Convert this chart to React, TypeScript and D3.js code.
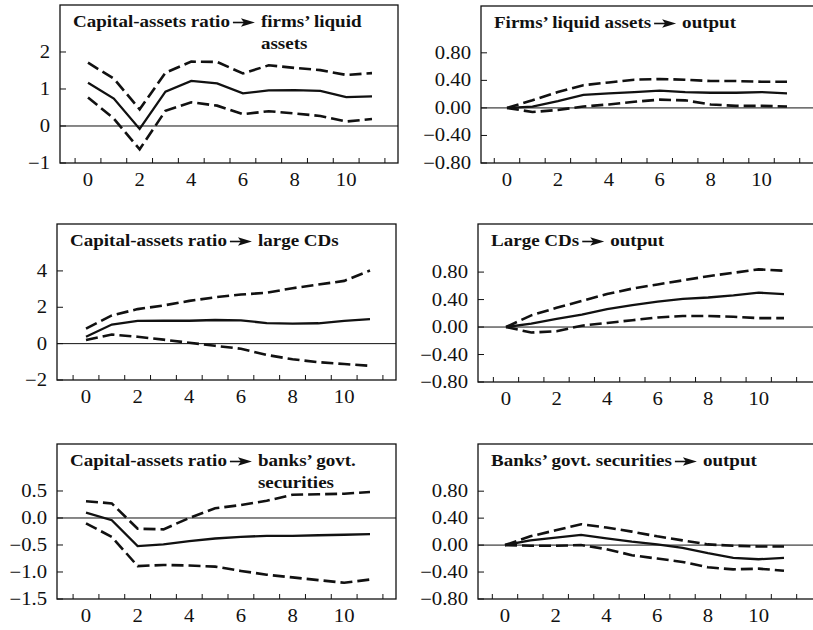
import React, { useEffect, useRef } from "react";
import * as d3 from "d3";

// horizons (quarters after the shock)
const horizons = [0, 1, 2, 3, 4, 5, 6, 7, 8, 9, 10, 11];
const xTickLabels = [0, 2, 4, 6, 8, 10];

// Capital-assets ratio -> firms' liquid assets
const caFirmsMid = [1.17, 0.74, -0.08, 0.93, 1.22, 1.15, 0.88, 0.96, 0.97, 0.95, 0.78, 0.8];
const caFirmsUp = [1.71, 1.28, 0.45, 1.44, 1.74, 1.73, 1.42, 1.64, 1.57, 1.51, 1.38, 1.43];
const caFirmsLo = [0.77, 0.2, -0.63, 0.41, 0.64, 0.55, 0.32, 0.4, 0.34, 0.27, 0.12, 0.19];

// Firms' liquid assets -> output
const firmsOutMid = [0, 0.02, 0.1, 0.19, 0.21, 0.23, 0.25, 0.23, 0.22, 0.22, 0.23, 0.21];
const firmsOutUp = [0, 0.11, 0.23, 0.33, 0.37, 0.41, 0.42, 0.41, 0.39, 0.39, 0.38, 0.38];
const firmsOutLo = [0, -0.06, -0.03, 0.02, 0.05, 0.09, 0.12, 0.11, 0.05, 0.03, 0.03, 0.02];

// Capital-assets ratio -> large CDs
const caCdsMid = [0.38, 1.05, 1.25, 1.26, 1.26, 1.3, 1.28, 1.13, 1.1, 1.12, 1.25, 1.35];
const caCdsUp = [0.83, 1.55, 1.9, 2.1, 2.35, 2.55, 2.7, 2.8, 3.05, 3.25, 3.45, 4.02];
const caCdsLo = [0.2, 0.5, 0.38, 0.22, 0.05, -0.12, -0.28, -0.62, -0.86, -1.02, -1.12, -1.22];

// Large CDs -> output
const cdsOutMid = [0, 0.05, 0.12, 0.18, 0.26, 0.32, 0.37, 0.41, 0.43, 0.46, 0.5, 0.48];
const cdsOutUp = [0, 0.17, 0.28, 0.38, 0.48, 0.56, 0.62, 0.68, 0.74, 0.79, 0.84, 0.82];
const cdsOutLo = [0, -0.08, -0.06, 0.02, 0.06, 0.1, 0.14, 0.16, 0.16, 0.15, 0.13, 0.13];

// Capital-assets ratio -> banks' govt. securities
const caSecMid = [0.1, -0.04, -0.52, -0.49, -0.43, -0.38, -0.35, -0.33, -0.33, -0.32, -0.31, -0.3];
const caSecUp = [0.31, 0.27, -0.2, -0.21, 0.0, 0.18, 0.24, 0.32, 0.43, 0.44, 0.45, 0.48];
const caSecLo = [-0.1, -0.35, -0.89, -0.87, -0.88, -0.9, -0.98, -1.05, -1.1, -1.15, -1.2, -1.14];

// Banks' govt. securities -> output
const secOutMid = [0, 0.07, 0.11, 0.15, 0.1, 0.05, 0.01, -0.04, -0.12, -0.19, -0.21, -0.19];
const secOutUp = [0, 0.13, 0.22, 0.31, 0.26, 0.2, 0.13, 0.07, 0.01, -0.01, -0.02, -0.02];
const secOutLo = [0, -0.01, -0.01, 0.0, -0.06, -0.15, -0.2, -0.25, -0.33, -0.36, -0.35, -0.38];

// y ticks
const ticksFirms = [-1, 0, 1, 2];
const labelsFirms = ["\u22121", "0", "1", "2"];
const ticksCds = [-2, 0, 2, 4];
const labelsCds = ["\u22122", "0", "2", "4"];
const ticksSec = [-1.5, -1, -0.5, 0, 0.5];
const labelsSec = ["\u22121.5", "\u22121.0", "\u22120.5", "0.0", "0.5"];
const ticksOut = [-0.8, -0.4, 0, 0.4, 0.8];
const labelsOut = ["\u22120.80", "\u22120.40", "0.00", "0.40", "0.80"];

interface Panel {
  left: number;
  right: number;
  top: number;
  bottom: number;
  yDomain: [number, number];
  x0: number;
  x11: number;
  yTicks: number[];
  yLabels: string[];
  from: string;
  to: string;
  to2?: string;
  mid: number[];
  up: number[];
  lo: number[];
}

const panels: Panel[] = [
  {
    left: 60, right: 398, top: 5, bottom: 163, yDomain: [-1, 3.27], x0: 88, x11: 372,
    yTicks: ticksFirms, yLabels: labelsFirms,
    from: "Capital-assets ratio", to: "firms\u2019 liquid", to2: "assets",
    mid: caFirmsMid, up: caFirmsUp, lo: caFirmsLo,
  },
  {
    left: 481, right: 821, top: 6, bottom: 163, yDomain: [-0.8, 1.48], x0: 507, x11: 787,
    yTicks: ticksOut, yLabels: labelsOut,
    from: "Firms\u2019 liquid assets", to: "output",
    mid: firmsOutMid, up: firmsOutUp, lo: firmsOutLo,
  },
  {
    left: 57, right: 396, top: 224, bottom: 380, yDomain: [-2, 6.58], x0: 86, x11: 370,
    yTicks: ticksCds, yLabels: labelsCds,
    from: "Capital-assets ratio", to: "large CDs",
    mid: caCdsMid, up: caCdsUp, lo: caCdsLo,
  },
  {
    left: 478, right: 821, top: 224, bottom: 382, yDomain: [-0.8, 1.5], x0: 506, x11: 784,
    yTicks: ticksOut, yLabels: labelsOut,
    from: "Large CDs", to: "output",
    mid: cdsOutMid, up: cdsOutUp, lo: cdsOutLo,
  },
  {
    left: 57, right: 396, top: 444, bottom: 599, yDomain: [-1.5, 1.37], x0: 86, x11: 370,
    yTicks: ticksSec, yLabels: labelsSec,
    from: "Capital-assets ratio", to: "banks\u2019 govt.", to2: "securities",
    mid: caSecMid, up: caSecUp, lo: caSecLo,
  },
  {
    left: 478, right: 821, top: 444, bottom: 599, yDomain: [-0.8, 1.5], x0: 505, x11: 784,
    yTicks: ticksOut, yLabels: labelsOut,
    from: "Banks\u2019 govt. securities", to: "output",
    mid: secOutMid, up: secOutUp, lo: secOutLo,
  },
];

const FONT = "'Liberation Serif', 'Times New Roman', serif";
const NUM_SX = 1.15; // the scanned digits are wider than Times
const TITLE_SX = 1.12;
const INK = "#111";

const App: React.FC = () => {
  const svgRef = useRef<SVGSVGElement | null>(null);

  useEffect(() => {
    if (!svgRef.current) return;
    const svg = d3.select(svgRef.current);
    svg.selectAll("*").remove();

    panels.forEach((p) => {
      const x = d3.scaleLinear().domain([0, 11]).range([p.x0, p.x11]);
      const y = d3.scaleLinear().domain(p.yDomain).range([p.bottom, p.top]);
      const g = svg.append("g");

      // frame
      g.append("rect")
        .attr("x", p.left)
        .attr("y", p.top)
        .attr("width", p.right - p.left)
        .attr("height", p.bottom - p.top)
        .attr("fill", "none")
        .attr("stroke", INK)
        .attr("stroke-width", 1.3);

      // zero line
      g.append("line")
        .attr("x1", p.left)
        .attr("x2", p.right)
        .attr("y1", y(0))
        .attr("y2", y(0))
        .attr("stroke", INK)
        .attr("stroke-width", 1);

      // x ticks between the horizons, pointing inward
      d3.range(-0.5, 12, 1).forEach((t) => {
        g.append("line")
          .attr("x1", x(t))
          .attr("x2", x(t))
          .attr("y1", p.bottom)
          .attr("y2", p.bottom - 5)
          .attr("stroke", INK)
          .attr("stroke-width", 1);
      });
      xTickLabels.forEach((t) => {
        g.append("text")
          .attr("transform", `translate(${x(t)},${p.bottom + 23}) scale(${NUM_SX},1)`)
          .attr("text-anchor", "middle")
          .style("font-family", FONT)
          .style("font-size", "18px")
          .attr("fill", INK)
          .text(String(t));
      });

      // y ticks
      p.yTicks.forEach((t, i) => {
        g.append("line")
          .attr("x1", p.left)
          .attr("x2", p.left + 6)
          .attr("y1", y(t))
          .attr("y2", y(t))
          .attr("stroke", INK)
          .attr("stroke-width", 1);
        g.append("text")
          .attr("transform", `translate(${p.left - 10},${y(t) + 6}) scale(${NUM_SX},1)`)
          .attr("text-anchor", "end")
          .style("font-family", FONT)
          .style("font-size", "18px")
          .attr("fill", INK)
          .text(p.yLabels[i]);
      });

      // response and bands
      const line = d3
        .line<number>()
        .x((_, i) => x(horizons[i]))
        .y((d) => y(d));

      [p.up, p.lo].forEach((band) => {
        g.append("path")
          .attr("d", line(band) || "")
          .attr("fill", "none")
          .attr("stroke", INK)
          .attr("stroke-width", 2.6)
          .attr("stroke-dasharray", "12,5");
      });
      g.append("path")
        .attr("d", line(p.mid) || "")
        .attr("fill", "none")
        .attr("stroke", INK)
        .attr("stroke-width", 2.3);

      // title: "from ➤ to"
      const tx = p.left + 13;
      const ty = p.top + 22;
      const t1 = g
        .append("text")
        .attr("transform", `translate(${tx},${ty}) scale(${TITLE_SX},1)`)
        .style("font-family", FONT)
        .style("font-size", "17px")
        .style("font-weight", "bold")
        .attr("fill", INK)
        .text(p.from);
      const w1 = (t1.node() as SVGTextElement).getComputedTextLength() * TITLE_SX;
      const ax = tx + w1 + 3;
      const ay = ty - 4.5;
      g.append("line")
        .attr("x1", ax)
        .attr("x2", ax + 12)
        .attr("y1", ay)
        .attr("y2", ay)
        .attr("stroke", INK)
        .attr("stroke-width", 1.6);
      g.append("path")
        .attr("d", `M${ax + 8},${ay - 4.2} L${ax + 22},${ay} L${ax + 8},${ay + 4.2} L${ax + 11},${ay} Z`)
        .attr("fill", INK);
      const x2 = ax + 28;
      [p.to, p.to2].forEach((s, k) => {
        if (!s) return;
        g.append("text")
          .attr("transform", `translate(${x2},${ty + k * 22}) scale(${TITLE_SX},1)`)
          .style("font-family", FONT)
          .style("font-size", "17px")
          .style("font-weight", "bold")
          .attr("fill", INK)
          .text(s);
      });
    });
  }, []);

  return (
    <svg
      ref={svgRef}
      width={813}
      height={630}
      style={{ position: "absolute", left: 0, top: 0, background: "#fff" }}
    />
  );
};

export default App;
